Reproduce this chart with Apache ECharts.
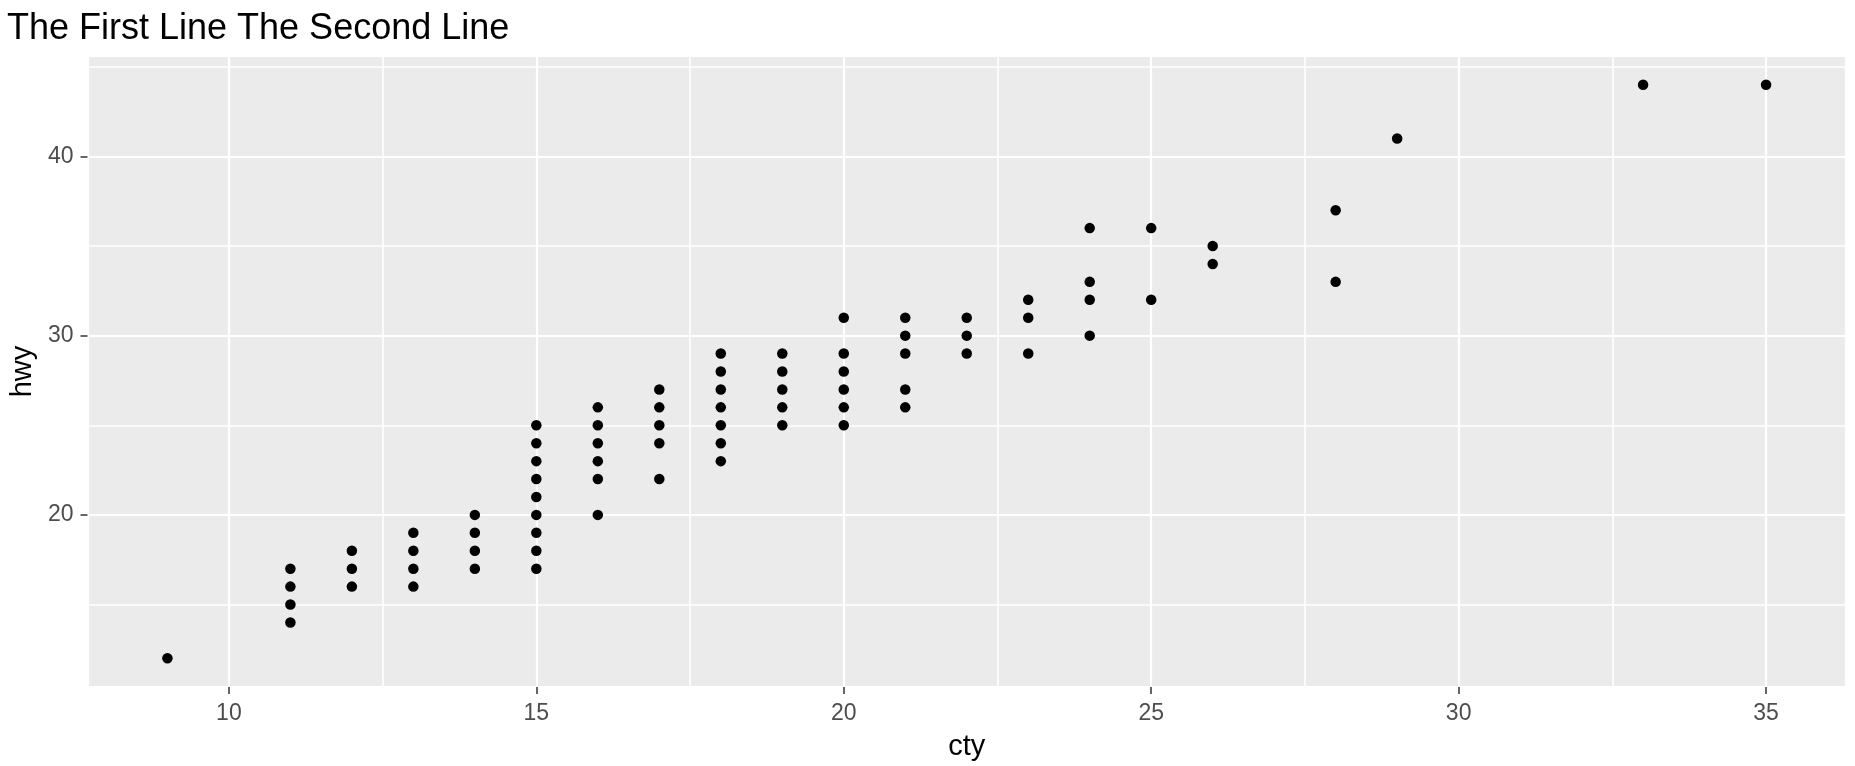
<!DOCTYPE html>
<html>
<head>
<meta charset="utf-8">
<script src="https://cdn.jsdelivr.net/npm/echarts@6/dist/echarts.min.js"></script>
<style>
  html, body { margin: 0; padding: 0; background: #fff; }
  #chart { width: 1855px; height: 766px; }
</style>
</head>
<body>
<div id="chart"></div>
<script>
// unique (cty, hwy) pairs
const cty = [9, 11, 11, 11, 11, 12, 12, 12, 13, 13, 13, 13, 14, 14, 14, 14,
  15, 15, 15, 15, 15, 15, 15, 15, 15, 16, 16, 16, 16, 16, 16,
  17, 17, 17, 17, 17, 18, 18, 18, 18, 18, 18, 18, 19, 19, 19, 19, 19,
  20, 20, 20, 20, 20, 20, 21, 21, 21, 21, 21, 22, 22, 22, 23, 23, 23,
  24, 24, 24, 24, 25, 25, 26, 26, 28, 28, 29, 33, 35]
const hwy = [12, 14, 15, 16, 17, 16, 17, 18, 16, 17, 18, 19, 17, 18, 19, 20,
  17, 18, 19, 20, 21, 22, 23, 24, 25, 20, 22, 23, 24, 25, 26,
  22, 24, 25, 26, 27, 23, 24, 25, 26, 27, 28, 29, 25, 26, 27, 28, 29,
  25, 26, 27, 28, 29, 31, 26, 27, 29, 30, 31, 29, 30, 31, 29, 31, 32,
  30, 32, 33, 36, 32, 36, 34, 35, 33, 37, 41, 44, 44]

const xTicks = [10, 15, 20, 25, 30, 35]
const yTicks = [20, 30, 40]

const xRange = [7.7, 36.3]
const yRange = [10.4, 45.6]

const chart = echarts.init(document.getElementById('chart'))

const font = 'Liberation Sans, Arial, sans-serif'

function labelFilter(ticks) {
  return function (v) {
    return ticks.indexOf(Math.round(v * 100) / 100) >= 0 ? String(v) : ''
  }
}

// minor grid axis (no labels) and major axis (labels + ticks)
function minorAxis(range, step, pos) {
  return {
    type: 'value', position: pos, min: range[0], max: range[1],
    minInterval: step, maxInterval: step,
    axisLine: { show: false }, axisTick: { show: false }, axisLabel: { show: false },
    splitLine: { lineStyle: { color: '#fff', width: 1.6 } }
  }
}

chart.setOption({
  animation: false,
  title: {
    text: 'The First Line The Second Line',
    left: 2,
    top: 6,
    textStyle: { fontFamily: font, fontSize: 36, fontWeight: 'normal', color: '#000' }
  },
  grid: {
    left: 83, right: 9, top: 56, bottom: 79,
    show: true, backgroundColor: '#EBEBEB', borderWidth: 0
  },
  xAxis: [minorAxis(xRange, 2.5, 'bottom'), {
    type: 'value', position: 'bottom', min: xRange[0], max: xRange[1],
    minInterval: 5, maxInterval: 5,
    name: 'cty', nameLocation: 'middle', nameGap: 45,
    nameTextStyle: { fontFamily: font, fontSize: 29, color: '#000' },
    axisLine: { show: false },
    axisTick: { show: true, length: 7, lineStyle: { color: '#333', width: 1.5 } },
    axisLabel: { margin: 15, fontFamily: font, fontSize: 23, color: '#4D4D4D',
      showMinLabel: false, showMaxLabel: false, formatter: labelFilter(xTicks) },
    splitLine: { lineStyle: { color: '#fff', width: 2.2 } }
  }],
  yAxis: [minorAxis(yRange, 5, 'left'), {
    type: 'value', position: 'left', min: yRange[0], max: yRange[1],
    minInterval: 10, maxInterval: 10,
    name: 'hwy', nameLocation: 'middle', nameGap: 46,
    nameTextStyle: { fontFamily: font, fontSize: 29, color: '#000' },
    axisLine: { show: false },
    axisTick: { show: true, length: 7, lineStyle: { color: '#333', width: 1.5 } },
    axisLabel: { margin: 14, fontFamily: font, fontSize: 23, color: '#4D4D4D',
      showMinLabel: false, showMaxLabel: false, formatter: labelFilter(yTicks) },
    splitLine: { lineStyle: { color: '#fff', width: 2.2 } }
  }],
  series: [{
    type: 'scatter',
    xAxisIndex: 1,
    yAxisIndex: 1,
    symbolSize: 10.5,
    itemStyle: { color: '#000', opacity: 1 },
    data: cty.map((c, i) => [c, hwy[i]])
  }]
})
</script>
</body>
</html>
